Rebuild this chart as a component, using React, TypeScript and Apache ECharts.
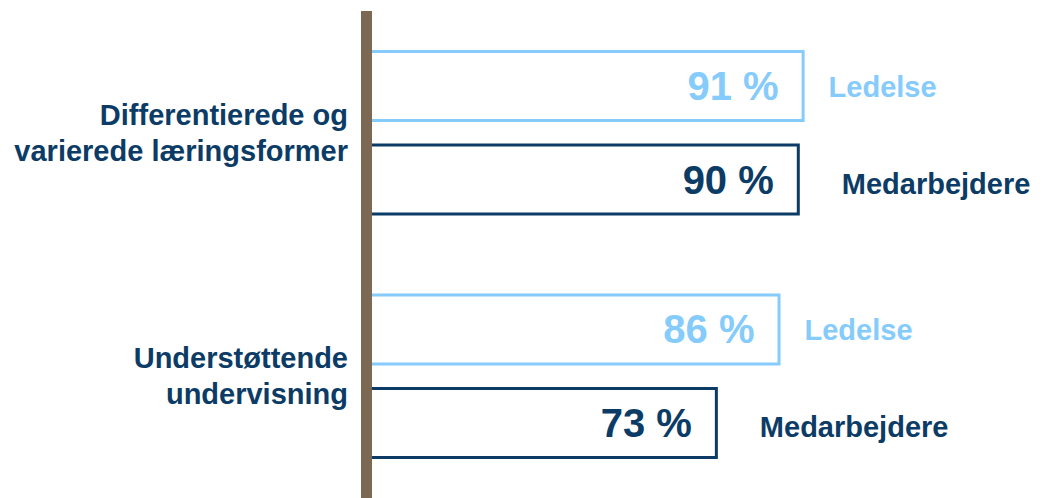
import React, { useEffect, useRef } from "react";
import * as echarts from "echarts";

const categories = ["Differentierede og\nvarierede læringsformer", "Understøttende\nundervisning"];
const seriesNames = ["Ledelse", "Medarbejdere"];
const ledelseValues = [91, 86];
const medarbejdereValues = [90, 73];
const nameAnchors = [0, 0];

const LIGHT = "#85CBFB";
const NAVY = "#0C3C66";
const BROWN = "#7C6853";
const FONT = "'Liberation Sans', Arial, sans-serif";

export default function App() {
  const ref = useRef<HTMLDivElement>(null);
  useEffect(() => {
    document.body.style.margin = "0";
    const chart = echarts.init(ref.current!, null, { renderer: "svg" });
    const valueSeries = (name: string, data: number[], color: string, stack: string) => ({
      type: "bar",
      name,
      stack,
      data,
      barWidth: 72,
      barGap: "30%",
      itemStyle: { color: "#ffffff", borderColor: color, borderWidth: 3 },
      label: {
        show: true,
        position: "insideRight",
        distance: 26,
        formatter: (p: any) => `${p.value} %`,
        color,
        fontFamily: FONT,
        fontWeight: "bold",
        fontSize: 40,
      },
    });
    const nameSeries = (name: string, color: string, stack: string, dist: number, dy: number) => ({
      type: "bar",
      name: name + "_label",
      stack,
      data: nameAnchors,
      barWidth: 72,
      barGap: "30%",
      itemStyle: { color: "transparent", borderWidth: 0 },
      label: {
        show: true,
        position: "right",
        distance: dist,
        offset: [0, dy],
        formatter: () => name,
        color,
        fontFamily: FONT,
        fontWeight: "bold",
        fontSize: 29,
      },
    });
    chart.setOption({
      animation: false,
      grid: { left: 366, right: 201, top: 11, bottom: 0, containLabel: false },
      xAxis: {
        type: "value",
        min: 0,
        max: 100,
        show: false,
      },
      yAxis: {
        type: "category",
        data: categories,
        inverse: true,
        z: 10,
        axisLine: { show: true, lineStyle: { color: BROWN, width: 11, cap: "butt" } },
        axisTick: { show: false },
        axisLabel: {
          margin: 18,
          color: NAVY,
          fontFamily: FONT,
          fontWeight: "bold",
          fontSize: 29,
          lineHeight: 36,
          align: "right",
        },
      },
      series: [
        valueSeries(seriesNames[0], ledelseValues, LIGHT, "L"),
        nameSeries(seriesNames[0], LIGHT, "L", 24, 1),
        valueSeries(seriesNames[1], medarbejdereValues, NAVY, "M"),
        nameSeries(seriesNames[1], NAVY, "M", 42, 4),
      ],
    });
    return () => chart.dispose();
  }, []);
  return <div ref={ref} style={{ width: 1049, height: 498 }} />;
}
